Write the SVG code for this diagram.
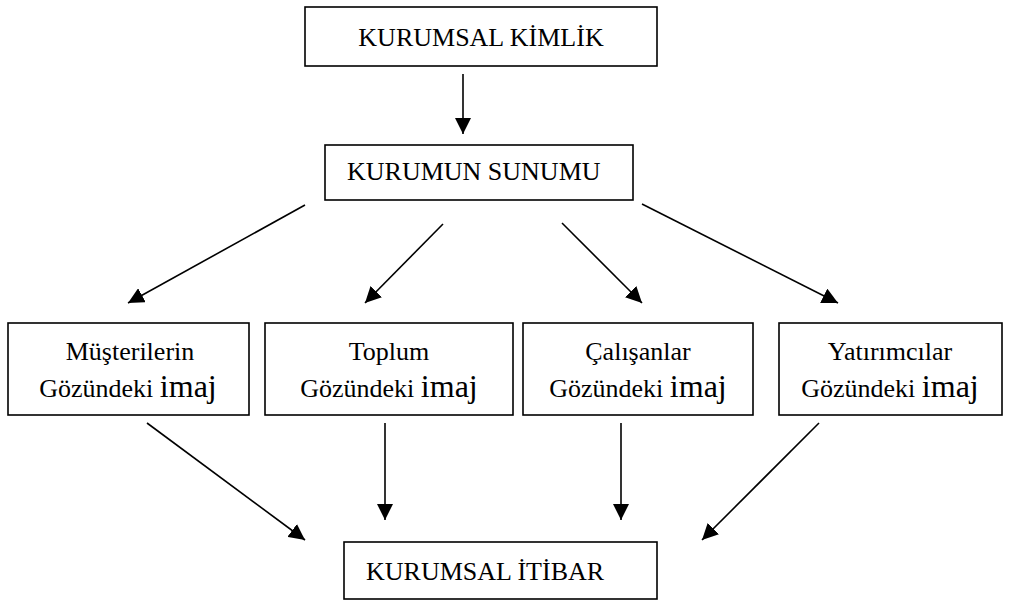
<svg xmlns="http://www.w3.org/2000/svg" width="1010" height="601" viewBox="0 0 1010 601">
  <defs>
    <style>
      .box { fill: #ffffff; stroke: #000000; stroke-width: 1.6; }
      .lbl { font-family: "Liberation Serif", "Times New Roman", serif; font-size: 26px; fill: #000000; }
      .big { font-size: 32px; }
      .mid { text-anchor: middle; }
      .link { fill: none; stroke: #000000; stroke-width: 1.6; marker-end: url(#arrow); }
    </style>
    <marker id="arrow" viewBox="0 0 16 16" refX="16" refY="8" markerWidth="16" markerHeight="16" markerUnits="userSpaceOnUse" orient="auto">
      <path d="M0,0 L16,8 L0,16 Z" fill="#000000"/>
    </marker>
  </defs>
  <rect width="1010" height="601" fill="#ffffff"/>

  <g id="connectors">
    <line class="link" x1="463" y1="74" x2="463" y2="134"/>
    <line class="link" x1="305" y1="205" x2="128" y2="303"/>
    <line class="link" x1="443" y1="224" x2="365" y2="303"/>
    <line class="link" x1="562" y1="223" x2="642" y2="303"/>
    <line class="link" x1="642" y1="204" x2="838" y2="303"/>
    <line class="link" x1="147" y1="423" x2="305" y2="540"/>
    <line class="link" x1="385" y1="423" x2="385" y2="520"/>
    <line class="link" x1="621" y1="423" x2="621" y2="520"/>
    <line class="link" x1="819" y1="423" x2="702" y2="540"/>
  </g>

  <g id="kurumsal-kimlik">
    <rect class="box" x="305" y="7" width="352" height="59"/>
    <text class="lbl mid" x="481" y="46">KURUMSAL KİMLİK</text>
  </g>

  <g id="kurumun-sunumu">
    <rect class="box" x="325" y="145" width="308" height="55"/>
    <text class="lbl" x="347" y="180">KURUMUN SUNUMU</text>
  </g>

  <g id="musteriler">
    <rect class="box" x="8" y="323" width="241" height="92"/>
    <text class="lbl mid" x="130" y="360">Müşterilerin</text>
    <text class="lbl mid" x="128" y="397">Gözündeki <tspan class="big">imaj</tspan></text>
  </g>

  <g id="toplum">
    <rect class="box" x="265" y="323" width="248" height="92"/>
    <text class="lbl mid" x="389" y="360">Toplum</text>
    <text class="lbl mid" x="389" y="397">Gözündeki <tspan class="big">imaj</tspan></text>
  </g>

  <g id="calisanlar">
    <rect class="box" x="523" y="323" width="230" height="92"/>
    <text class="lbl mid" x="638" y="360">Çalışanlar</text>
    <text class="lbl mid" x="638" y="397">Gözündeki <tspan class="big">imaj</tspan></text>
  </g>

  <g id="yatirimcilar">
    <rect class="box" x="779" y="323" width="223" height="92"/>
    <text class="lbl mid" x="890" y="360">Yatırımcılar</text>
    <text class="lbl mid" x="890" y="397">Gözündeki <tspan class="big">imaj</tspan></text>
  </g>

  <g id="kurumsal-itibar">
    <rect class="box" x="344" y="542" width="313" height="57"/>
    <text class="lbl" x="366" y="580">KURUMSAL İTİBAR</text>
  </g>
</svg>
